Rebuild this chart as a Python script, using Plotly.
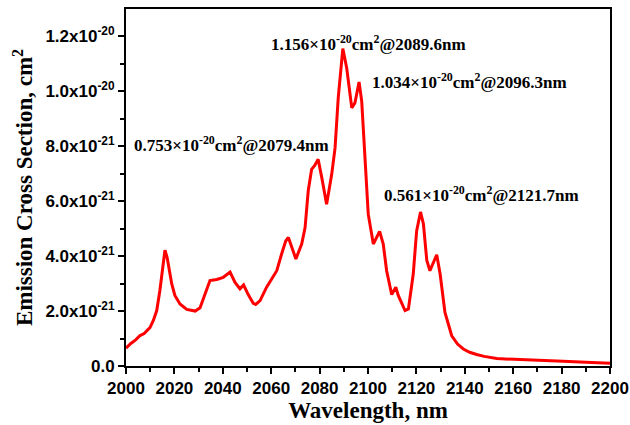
import plotly.graph_objects as go

# Wavelength (nm) and emission cross section (units of 1e-21 cm^2)
wavelength = [2000.0, 2002.0, 2004.0, 2005.8, 2007.5, 2009.9, 2011.3, 2012.7, 2014.0, 2015.2,
              2016.1, 2017.0, 2017.8, 2018.9, 2020.2, 2022.3, 2025.1, 2028.6, 2030.6, 2032.6,
              2034.7, 2037.5, 2040.2, 2043.0, 2045.0, 2047.1, 2048.6, 2050.5, 2052.6, 2053.6,
              2055.4, 2058.1, 2060.2, 2062.3, 2064.3, 2066.0, 2067.1, 2068.5, 2070.2, 2072.6,
              2074.0, 2075.3, 2076.7, 2078.0, 2079.4, 2080.9, 2082.9, 2085.0, 2086.4, 2087.7,
              2089.6, 2091.2, 2093.3, 2094.6, 2096.3, 2097.4, 2098.8, 2100.1, 2102.2, 2103.5,
              2104.8, 2106.3, 2107.7, 2109.8, 2111.5, 2112.5, 2115.3, 2116.7, 2118.7, 2120.1,
              2121.7, 2122.9, 2124.3, 2125.6, 2128.4, 2129.8, 2131.8, 2134.6, 2137.0, 2139.4,
              2142.0, 2144.9, 2148.0, 2153.2, 2160.0, 2166.9, 2173.0, 2180.6, 2190.0, 2200.0]
cross_e21 = [0.65, 0.82, 0.95, 1.11, 1.18, 1.40, 1.66, 2.02, 2.75, 3.72,
             4.22, 3.95, 3.55, 2.99, 2.57, 2.26, 2.06, 2.00, 2.12, 2.60,
             3.11, 3.15, 3.23, 3.42, 3.05, 2.81, 2.95, 2.60, 2.28, 2.24,
             2.38, 2.87, 3.17, 3.47, 4.08, 4.55, 4.68, 4.32, 3.90, 4.44,
             5.04, 6.38, 7.16, 7.30, 7.53, 6.86, 5.89, 6.98, 7.95, 9.76,
             11.56, 10.85, 9.40, 9.58, 10.34, 9.64, 7.34, 5.53, 4.44, 4.70,
             4.90, 4.44, 3.47, 2.60, 2.87, 2.57, 2.02, 2.08, 3.35, 4.92,
             5.61, 5.17, 3.84, 3.47, 4.05, 3.35, 1.95, 1.10, 0.80, 0.62,
             0.50, 0.42, 0.35, 0.27, 0.24, 0.21, 0.19, 0.17, 0.14, 0.10]

y_tickvals = [0, 2e-21, 4e-21, 6e-21, 8e-21, 1.0e-20, 1.2e-20]
y_ticktext = ["0.0", "2.0x10<sup>-21</sup>", "4.0x10<sup>-21</sup>", "6.0x10<sup>-21</sup>",
              "8.0x10<sup>-21</sup>", "1.0x10<sup>-20</sup>", "1.2x10<sup>-20</sup>"]

ann_text = ["1.156×10<sup>-20</sup>cm<sup>2</sup>@2089.6nm",
            "1.034×10<sup>-20</sup>cm<sup>2</sup>@2096.3nm",
            "0.753×10<sup>-20</sup>cm<sup>2</sup>@2079.4nm",
            "0.561×10<sup>-20</sup>cm<sup>2</sup>@2121.7nm"]
ann_x = [2100.0, 2142.0, 2043.4, 2147.1]
ann_y = [1.175e-20, 1.037e-20, 0.808e-20, 0.627e-20]

cross = [v * 1e-21 for v in cross_e21]

fig = go.Figure()
fig.add_trace(go.Scatter(x=wavelength, y=cross, mode="lines",
                         line=dict(color="#ff0000", width=3), showlegend=False))

for t, x, y in zip(ann_text, ann_x, ann_y):
    fig.add_annotation(x=x, y=y, text="<b>" + t + "</b>", showarrow=False,
                       font=dict(family="Liberation Serif", size=17, color="black"))

fig.update_layout(
    width=630, height=425,
    margin=dict(l=126, r=20, t=9, b=59),
    paper_bgcolor="white", plot_bgcolor="white",
    xaxis=dict(range=[2000, 2200], dtick=20, tick0=2000, automargin=False,
               showline=True, linecolor="black", linewidth=2, mirror=True,
               ticks="outside", ticklen=6, tickwidth=2, tickcolor="black",
               minor=dict(dtick=10, ticks="outside", ticklen=4, tickwidth=1.5, tickcolor="black"),
               showgrid=False, zeroline=False,
               tickfont=dict(family="Liberation Sans", size=17, color="black", weight="bold"),
               title=dict(text="<b>Wavelength, nm</b>", standoff=4,
                          font=dict(family="Liberation Serif", size=23, color="black"))),
    yaxis=dict(range=[0, 1.3e-20], tickvals=y_tickvals, ticktext=y_ticktext, automargin=False,
               showline=True, linecolor="black", linewidth=2, mirror=True,
               ticks="outside", ticklen=6, tickwidth=2, tickcolor="black",
               minor=dict(tickvals=[1e-21, 3e-21, 5e-21, 7e-21, 9e-21, 1.1e-20],
                          ticks="outside", ticklen=4, tickwidth=1.5, tickcolor="black"),
               showgrid=False, zeroline=False,
               tickfont=dict(family="Liberation Sans", size=17, color="black", weight="bold"),
               title=dict(text="<b>Emission Cross Section, cm<sup>2</sup></b>", standoff=6,
                          font=dict(family="Liberation Serif", size=23, color="black"))),
)

fig.write_html("out.html", config={"displayModeBar": False},
               post_script="document.body.style.margin='0px';document.body.style.overflow='hidden';")
